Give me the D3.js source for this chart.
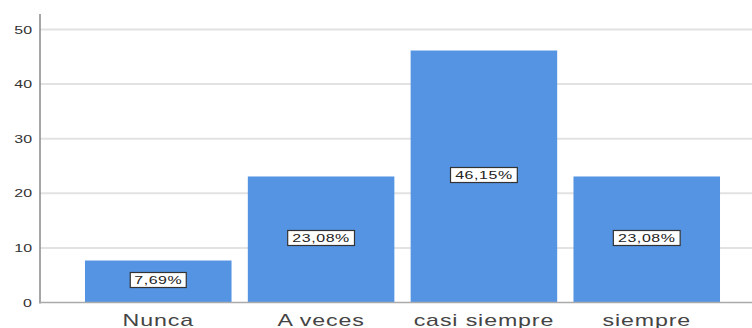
<!DOCTYPE html>
<html>
<head>
<meta charset="utf-8">
<script src="https://cdn.jsdelivr.net/npm/d3@7"></script>
<style>
  body { margin: 0; background: #fff; }
  svg { display: block; font-family: "Liberation Sans", Arial, sans-serif; }
</style>
</head>
<body>
<div id="chart"></div>
<script>
const categories = ["Nunca", "A veces", "casi siempre", "siempre"];
const values = [7.69, 23.08, 46.15, 23.08];
const labels = ["7,69%", "23,08%", "46,15%", "23,08%"];
const yTicks = [0, 10, 20, 30, 40, 50];

const width = 752;
const height = 328;
const axisX = 40;
const baseY = 302.5;
const stretch = 1.45;

const svg = d3.select("#chart").append("svg")
  .attr("width", width)
  .attr("height", height);

const x = d3.scaleBand()
  .domain(categories)
  .range([68.7, 736.3])
  .paddingInner(0.1)
  .paddingOuter(0.1);

const y = d3.scaleLinear()
  .domain([0, 50])
  .range([baseY, 29.5]);

// gridlines
svg.append("g")
  .selectAll("line")
  .data(yTicks.slice(1))
  .join("line")
  .attr("x1", axisX)
  .attr("x2", width)
  .attr("y1", d => y(d))
  .attr("y2", d => y(d))
  .attr("stroke", "#e2e2e2")
  .attr("stroke-width", 2);

// tick labels
svg.append("g")
  .selectAll("text")
  .data(yTicks)
  .join("text")
  .attr("transform", d => `translate(32, ${y(d) + 4}) scale(${stretch},1)`)
  .attr("text-anchor", "end")
  .attr("font-size", 11)
  .attr("fill", "#333")
  .text(d => d);

// bars
svg.append("g")
  .selectAll("rect")
  .data(values)
  .join("rect")
  .attr("x", (d, i) => x(categories[i]))
  .attr("y", d => y(d))
  .attr("width", x.bandwidth())
  .attr("height", d => baseY - y(d))
  .attr("fill", "#5494e3");

// axes
svg.append("line")
  .attr("x1", axisX).attr("x2", axisX)
  .attr("y1", 14).attr("y2", baseY + 1)
  .attr("stroke", "#888").attr("stroke-width", 1.5);

svg.append("line")
  .attr("x1", axisX).attr("x2", width)
  .attr("y1", baseY).attr("y2", baseY)
  .attr("stroke", "#aaa").attr("stroke-width", 1.5);

// value labels
const lab = svg.append("g")
  .selectAll("g")
  .data(values)
  .join("g")
  .attr("transform", (d, i) =>
    `translate(${x(categories[i]) + x.bandwidth() / 2}, ${(y(d) + baseY) / 2 - 1.5})`);

lab.append("rect")
  .attr("x", (d, i) => -(labels[i].length * 10.8 + 2) / 2)
  .attr("y", -7.5)
  .attr("width", (d, i) => labels[i].length * 10.8 + 2)
  .attr("height", 15)
  .attr("fill", "#fff")
  .attr("stroke", "#333")
  .attr("stroke-width", 1.2);

lab.append("text")
  .attr("transform", `translate(0, 4) scale(${stretch},1)`)
  .attr("text-anchor", "middle")
  .attr("font-size", 11)
  .attr("letter-spacing", 0.4)
  .attr("fill", "#222")
  .text((d, i) => labels[i]);

// category labels
svg.append("g")
  .selectAll("text")
  .data(categories)
  .join("text")
  .attr("transform", d => `translate(${x(d) + x.bandwidth() / 2}, 326) scale(${stretch},1)`)
  .attr("text-anchor", "middle")
  .attr("font-size", 16)
  .attr("letter-spacing", 0.6)
  .attr("fill", "#444")
  .text(d => d);
</script>
</body>
</html>
